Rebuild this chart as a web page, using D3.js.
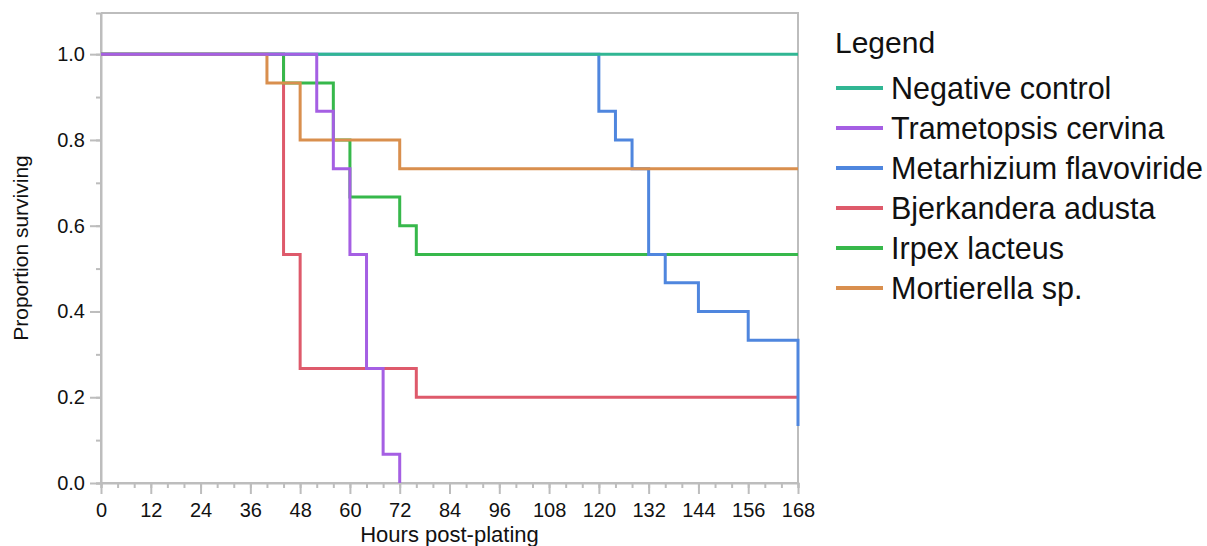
<!DOCTYPE html>
<html>
<head>
<meta charset="utf-8">
<script src="https://cdn.jsdelivr.net/npm/d3@7"></script>
<style>
  body { margin: 0; background: #fff; }
  svg text { font-family: "Liberation Sans", Arial, sans-serif; fill: #111; }
  .axis path, .axis line { stroke: #bdbdbd; stroke-width: 2px; }
</style>
</head>
<body>
<svg class="chart"></svg>
<script>
// legend names and colours
var seriesNames = ["Negative control", "Trametopsis cervina", "Metarhizium flavoviride",
                   "Bjerkandera adusta", "Irpex lacteus", "Mortierella sp."];
var seriesColors = ["#31b693", "#a55fe3", "#4f86de", "#de5a6b", "#37b84b", "#d98f4e"];

// Kaplan-Meier steps (hours, proportion surviving)
var negTime   = [0, 168];
var negSurv   = [1, 1];
var trameTime = [0, 52, 56, 60, 64, 68, 72];
var trameSurv = [1, 0.867, 0.733, 0.533, 0.267, 0.067, 0];
var metaTime  = [0, 120, 124, 128, 132, 136, 144, 156, 168];
var metaSurv  = [1, 0.867, 0.8, 0.733, 0.533, 0.467, 0.4, 0.333, 0.133];
var bjerTime  = [0, 44, 48, 76, 168];
var bjerSurv  = [1, 0.533, 0.267, 0.2, 0.2];
var irpexTime = [0, 44, 56, 60, 72, 76, 168];
var irpexSurv = [1, 0.933, 0.8, 0.667, 0.6, 0.533, 0.533];
var mortTime  = [0, 40, 48, 72, 168];
var mortSurv  = [1, 0.933, 0.8, 0.733, 0.733];

var xTicks = d3.range(0, 169, 12);
var yTicks = [0, 0.2, 0.4, 0.6, 0.8, 1.0];

// set the dimensions and margins of the graph
var margin = {top: 13, right: 409, bottom: 63, left: 101},
  width = 1207 - margin.left - margin.right,
  height = 546 - margin.top - margin.bottom;

var root = d3.select("svg.chart")
  .attr("width", 1207)
  .attr("height", 546);

var svg = root.append("g")
  .attr("transform", "translate(" + margin.left + "," + margin.top + ")");

var x = d3.scaleLinear().domain([0, 168]).range([0, width]);
var y = d3.scaleLinear().domain([0, 1.096]).range([height, 0]);

// frame (top and right edges)
svg.append("path")
  .attr("d", "M0,0H" + width + "V" + height)
  .attr("fill", "none")
  .attr("stroke", "#bdbdbd")
  .attr("stroke-width", 2);

// minor ticks
svg.append("g")
  .attr("class", "axis")
  .attr("transform", "translate(0," + height + ")")
  .call(d3.axisBottom(x).tickValues(d3.range(0, 169, 4)).tickSize(5).tickFormat(""));
svg.append("g")
  .attr("class", "axis")
  .call(d3.axisLeft(y).tickValues(d3.range(0, 11).map(function(i) { return i / 10; })).tickSize(5).tickFormat(""));

// major axes
var xAxis = svg.append("g")
  .attr("class", "axis")
  .attr("transform", "translate(0," + height + ")")
  .call(d3.axisBottom(x).tickValues(xTicks).tickSize(11).tickPadding(4).tickFormat(d3.format("d")));
xAxis.selectAll("text").style("font-size", "20px").attr("dy", "0.95em");

var yAxis = svg.append("g")
  .attr("class", "axis")
  .call(d3.axisLeft(y).tickValues(yTicks).tickSize(11).tickPadding(5).tickFormat(d3.format(".1f")));
yAxis.selectAll("text").style("font-size", "20px");

xAxis.select(".domain").attr("d", "M0,0H" + width);
yAxis.select(".domain").attr("d", "M0," + height + "V0");

// axis titles
svg.append("text")
  .attr("x", width / 2)
  .attr("y", height + 59)
  .attr("text-anchor", "middle")
  .style("font-size", "22px")
  .text("Hours post-plating");

svg.append("text")
  .attr("transform", "translate(" + (-73) + "," + (height / 2) + ") rotate(-90)")
  .attr("text-anchor", "middle")
  .style("font-size", "21px")
  .text("Proportion surviving");

// build series
var series = [
  {name: seriesNames[0], color: seriesColors[0], t: negTime,   s: negSurv},
  {name: seriesNames[1], color: seriesColors[1], t: trameTime, s: trameSurv},
  {name: seriesNames[2], color: seriesColors[2], t: metaTime,  s: metaSurv},
  {name: seriesNames[3], color: seriesColors[3], t: bjerTime,  s: bjerSurv},
  {name: seriesNames[4], color: seriesColors[4], t: irpexTime, s: irpexSurv},
  {name: seriesNames[5], color: seriesColors[5], t: mortTime,  s: mortSurv}
];

var line = d3.line()
  .x(function(d) { return x(d[0]); })
  .y(function(d) { return y(d[1]); })
  .curve(d3.curveStepAfter);

// draw order as seen in the picture (which line sits on top)
var drawOrder = [3, 4, 2, 0, 5, 1];

svg.append("g")
  .selectAll("path")
  .data(drawOrder.map(function(i) { return series[i]; }))
  .enter().append("path")
    .attr("fill", "none")
    .attr("stroke", function(d) { return d.color; })
    .attr("stroke-width", 3)
    .attr("d", function(d) { return line(d.t.map(function(t, i) { return [t, d.s[i]]; })); });

// legend
var legend = root.append("g").attr("transform", "translate(835,0)");
legend.append("text")
  .attr("x", 0)
  .attr("y", 53)
  .style("font-size", "30px")
  .text("Legend");

var item = legend.selectAll("g.item")
  .data(series)
  .enter().append("g")
    .attr("class", "item")
    .attr("transform", function(d, i) { return "translate(0," + (88 + i * 40) + ")"; });

item.append("line")
  .attr("x1", 1).attr("x2", 48)
  .attr("stroke", function(d) { return d.color; })
  .attr("stroke-width", 4);

item.append("text")
  .attr("x", 56)
  .attr("y", 11)
  .style("font-size", "30.5px")
  .text(function(d) { return d.name; });
</script>
</body>
</html>
